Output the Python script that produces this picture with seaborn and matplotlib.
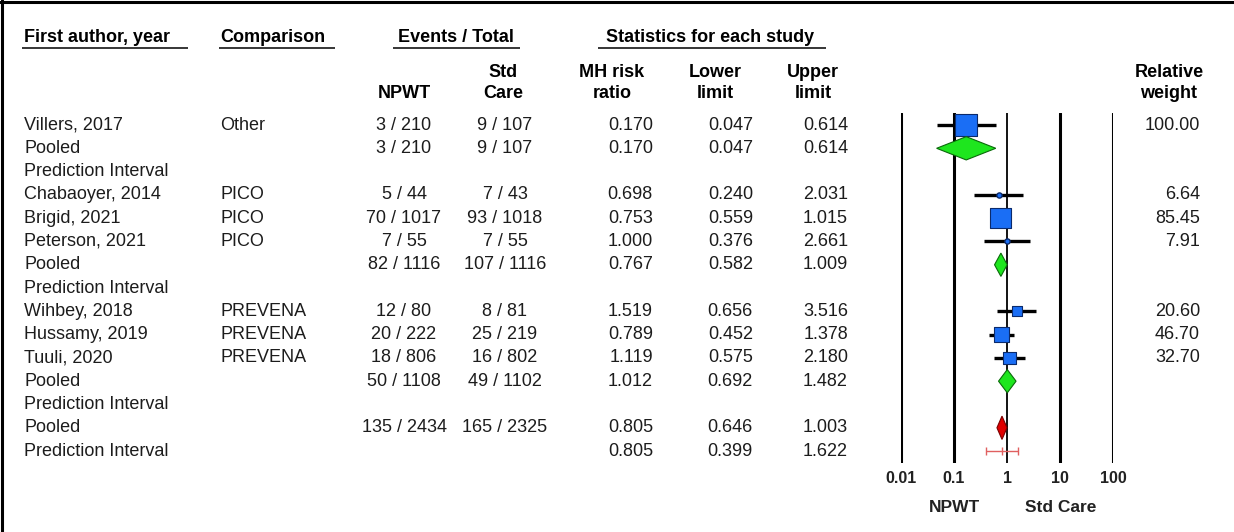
import numpy as np
import pandas as pd
import seaborn as sns
import matplotlib
matplotlib.use("Agg")
import matplotlib.pyplot as plt
from matplotlib.lines import Line2D
from matplotlib.patches import Polygon

# ---- data -------------------------------------------------------------
studies = ["Villers, 2017", "Pooled", "Prediction Interval",
           "Chabaoyer, 2014", "Brigid, 2021", "Peterson, 2021", "Pooled", "Prediction Interval",
           "Wihbey, 2018", "Hussamy, 2019", "Tuuli, 2020", "Pooled", "Prediction Interval",
           "Pooled", "Prediction Interval"]
comparison = ["Other", "", "", "PICO", "PICO", "PICO", "", "",
              "PREVENA", "PREVENA", "PREVENA", "", "", "", ""]
row_kind = ["study", "pooled", "pi", "study", "study", "study", "pooled", "pi",
            "study", "study", "study", "pooled", "pi", "overall", "overall_pi"]
npwt_events = [3, 3, None, 5, 70, 7, 82, None, 12, 20, 18, 50, None, 135, None]
npwt_total = [210, 210, None, 44, 1017, 55, 1116, None, 80, 222, 806, 1108, None, 2434, None]
std_events = [9, 9, None, 7, 93, 7, 107, None, 8, 25, 16, 49, None, 165, None]
std_total = [107, 107, None, 43, 1018, 55, 1116, None, 81, 219, 802, 1102, None, 2325, None]
risk_ratio = [0.170, 0.170, None, 0.698, 0.753, 1.000, 0.767, None,
              1.519, 0.789, 1.119, 1.012, None, 0.805, 0.805]
lower_limit = [0.047, 0.047, None, 0.240, 0.559, 0.376, 0.582, None,
               0.656, 0.452, 0.575, 0.692, None, 0.646, 0.399]
upper_limit = [0.614, 0.614, None, 2.031, 1.015, 2.661, 1.009, None,
               3.516, 1.378, 2.180, 1.482, None, 1.003, 1.622]
rel_weight = [100.00, None, None, 6.64, 85.45, 7.91, None, None,
              20.60, 46.70, 32.70, None, None, None, None]
scale_ticks = [0.01, 0.1, 1, 10, 100]
scale_labels = ["0.01", "0.1", "1", "10", "100"]

df = pd.DataFrame({"study": studies, "comparison": comparison, "kind": row_kind,
                   "rr": risk_ratio, "lo": lower_limit, "hi": upper_limit,
                   "weight": rel_weight})
df["row"] = np.arange(len(df))

# ---- style ------------------------------------------------------------
sns.set_theme(style="white")
plt.rcParams["font.family"] = ["Liberation Sans", "DejaVu Sans"]

W, H = 1234, 532
fig = plt.figure(figsize=(W / 100, H / 100), dpi=100)
fig.patch.set_facecolor("white")

ROW0, PITCH = 125.0, 23.29


def row_of(py):
    return (py - ROW0) / PITCH


TXT = "#1c1c1c"
FS = 13
BLUE = "#1a6ef5"
NAVY = "#0b2a6b"
GREEN = "#1ee61e"
RED = "#e00000"

# table axes in pixel-x / row-y units
tax = fig.add_axes([0, 0, 1, 1])
tax.set_xlim(0, W)
tax.set_ylim(row_of(H), row_of(0))
tax.axis("off")

# header block
hdr_y = row_of(37)
tax.text(24, hdr_y, "First author, year", fontsize=FS, fontweight="bold", va="center", ha="left", color="black")
tax.text(220, hdr_y, "Comparison", fontsize=FS, fontweight="bold", va="center", ha="left", color="black")
tax.text(456, hdr_y, "Events / Total", fontsize=FS, fontweight="bold", va="center", ha="center", color="black")
tax.text(710, hdr_y, "Statistics for each study", fontsize=FS, fontweight="bold", va="center", ha="center", color="black")
ul_y = row_of(48)
for x0, x1 in [(22, 188), (219, 335), (393, 520), (598, 826)]:
    tax.plot([x0, x1], [ul_y, ul_y], color="black", lw=1.1, solid_capstyle="butt")

l1, l2 = row_of(72), row_of(93)
sub_headers = [(404, "", "NPWT"), (503, "Std", "Care"), (612, "MH risk", "ratio"),
               (715, "Lower", "limit"), (813, "Upper", "limit"), (1169, "Relative", "weight")]
for x, a, b in sub_headers:
    if a:
        tax.text(x, l1, a, fontsize=FS, fontweight="bold", va="center", ha="center", color="black")
    tax.text(x, l2, b, fontsize=FS, fontweight="bold", va="center", ha="center", color="black")

# table body
for i, r in enumerate(studies):
    y = i
    tax.text(24, y, r, fontsize=FS, va="center", ha="left", color=TXT)
    if comparison[i]:
        tax.text(220, y, comparison[i], fontsize=FS, va="center", ha="left", color=TXT)
    if npwt_events[i] is not None:
        tax.text(404, y, f"{npwt_events[i]} / {npwt_total[i]}", fontsize=FS, va="center", ha="center", color=TXT)
        tax.text(505, y, f"{std_events[i]} / {std_total[i]}", fontsize=FS, va="center", ha="center", color=TXT)
    if risk_ratio[i] is not None:
        tax.text(653, y, f"{risk_ratio[i]:.3f}", fontsize=FS, va="center", ha="right", color=TXT)
        tax.text(753, y, f"{lower_limit[i]:.3f}", fontsize=FS, va="center", ha="right", color=TXT)
        tax.text(848, y, f"{upper_limit[i]:.3f}", fontsize=FS, va="center", ha="right", color=TXT)
    if rel_weight[i] is not None:
        tax.text(1200, y, f"{rel_weight[i]:.2f}", fontsize=FS, va="center", ha="right", color=TXT)

# axis captions under the scale
tax.text(954, row_of(508), "NPWT", fontsize=12.5, fontweight="bold", va="center", ha="center", color="#222222")
tax.text(1061, row_of(508), "Std Care", fontsize=12.5, fontweight="bold", va="center", ha="center", color="#222222")

# ---- forest panel -------------------------------------------------------
top_px, bot_px, left_px, right_px = 113, 463, 901, 1113
fax = fig.add_axes([left_px / W, (H - bot_px) / H, (right_px - left_px) / W, (bot_px - top_px) / H])
fax.set_xscale("log")
fax.set_xlim(0.01, 100)
fax.set_ylim(row_of(bot_px), row_of(top_px))
fax.patch.set_alpha(0)
for s in fax.spines.values():
    s.set_visible(False)
fax.set_yticks([])
fax.set_xticks(scale_ticks)
fax.set_xticklabels(scale_labels)
fax.xaxis.set_minor_locator(matplotlib.ticker.NullLocator())
fax.tick_params(axis="x", length=0, pad=6, labelsize=11.5, labelcolor="#222222")
for lab in fax.get_xticklabels():
    lab.set_fontweight("bold")

for t in scale_ticks:
    fax.axvline(t, color="black", lw=1.3 if t == 1 else 2.2, zorder=1)

study_rows = df[df["kind"] == "study"]
fax.hlines(study_rows["row"], study_rows["lo"], study_rows["hi"], color="black", lw=2.4, zorder=2)

big = study_rows[study_rows["weight"] >= 10]
small = study_rows[study_rows["weight"] < 10]
side_pt_at_100 = 22 * 0.72
sns.scatterplot(data=big, x="rr", y="row", size="weight", sizes=(0, side_pt_at_100 ** 2),
                size_norm=(0, 100), marker="s", color=BLUE, edgecolor=NAVY, linewidth=0.8,
                legend=False, ax=fax, zorder=4)
sns.scatterplot(data=small, x="rr", y="row", marker="o", s=14, color=BLUE, edgecolor=NAVY,
                linewidth=1.0, legend=False, ax=fax, zorder=4)

# summary diamonds
for _, r in df[df["kind"].isin(["pooled", "overall"])].iterrows():
    h = 0.5
    fc = RED if r["kind"] == "overall" else GREEN
    ec = "#7a0000" if r["kind"] == "overall" else "#0a6a0a"
    poly = Polygon([(r["lo"], r["row"]), (r["rr"], r["row"] - h), (r["hi"], r["row"]), (r["rr"], r["row"] + h)],
                   closed=True, facecolor=fc, edgecolor=ec, lw=0.8, zorder=5)
    fax.add_patch(poly)

# overall prediction interval
pi = df[df["kind"] == "overall_pi"].iloc[0]
fax.errorbar(pi["rr"], pi["row"], xerr=[[pi["rr"] - pi["lo"]], [pi["hi"] - pi["rr"]]],
             fmt="|", color="#e06060", ecolor="#e06060", elinewidth=1.0, capsize=3,
             markersize=6, markeredgewidth=1.0, zorder=5)

fax.set_xlabel("")
fax.set_ylabel("")

# outer frame (top and left edges)
fig.add_artist(Line2D([0, 1], [1 - 1.5 / H, 1 - 1.5 / H], transform=fig.transFigure, color="black", lw=2.2))
fig.add_artist(Line2D([1.5 / W, 1.5 / W], [0, 1], transform=fig.transFigure, color="black", lw=2.2))

fig.savefig("out.png", dpi=100, facecolor="white")
